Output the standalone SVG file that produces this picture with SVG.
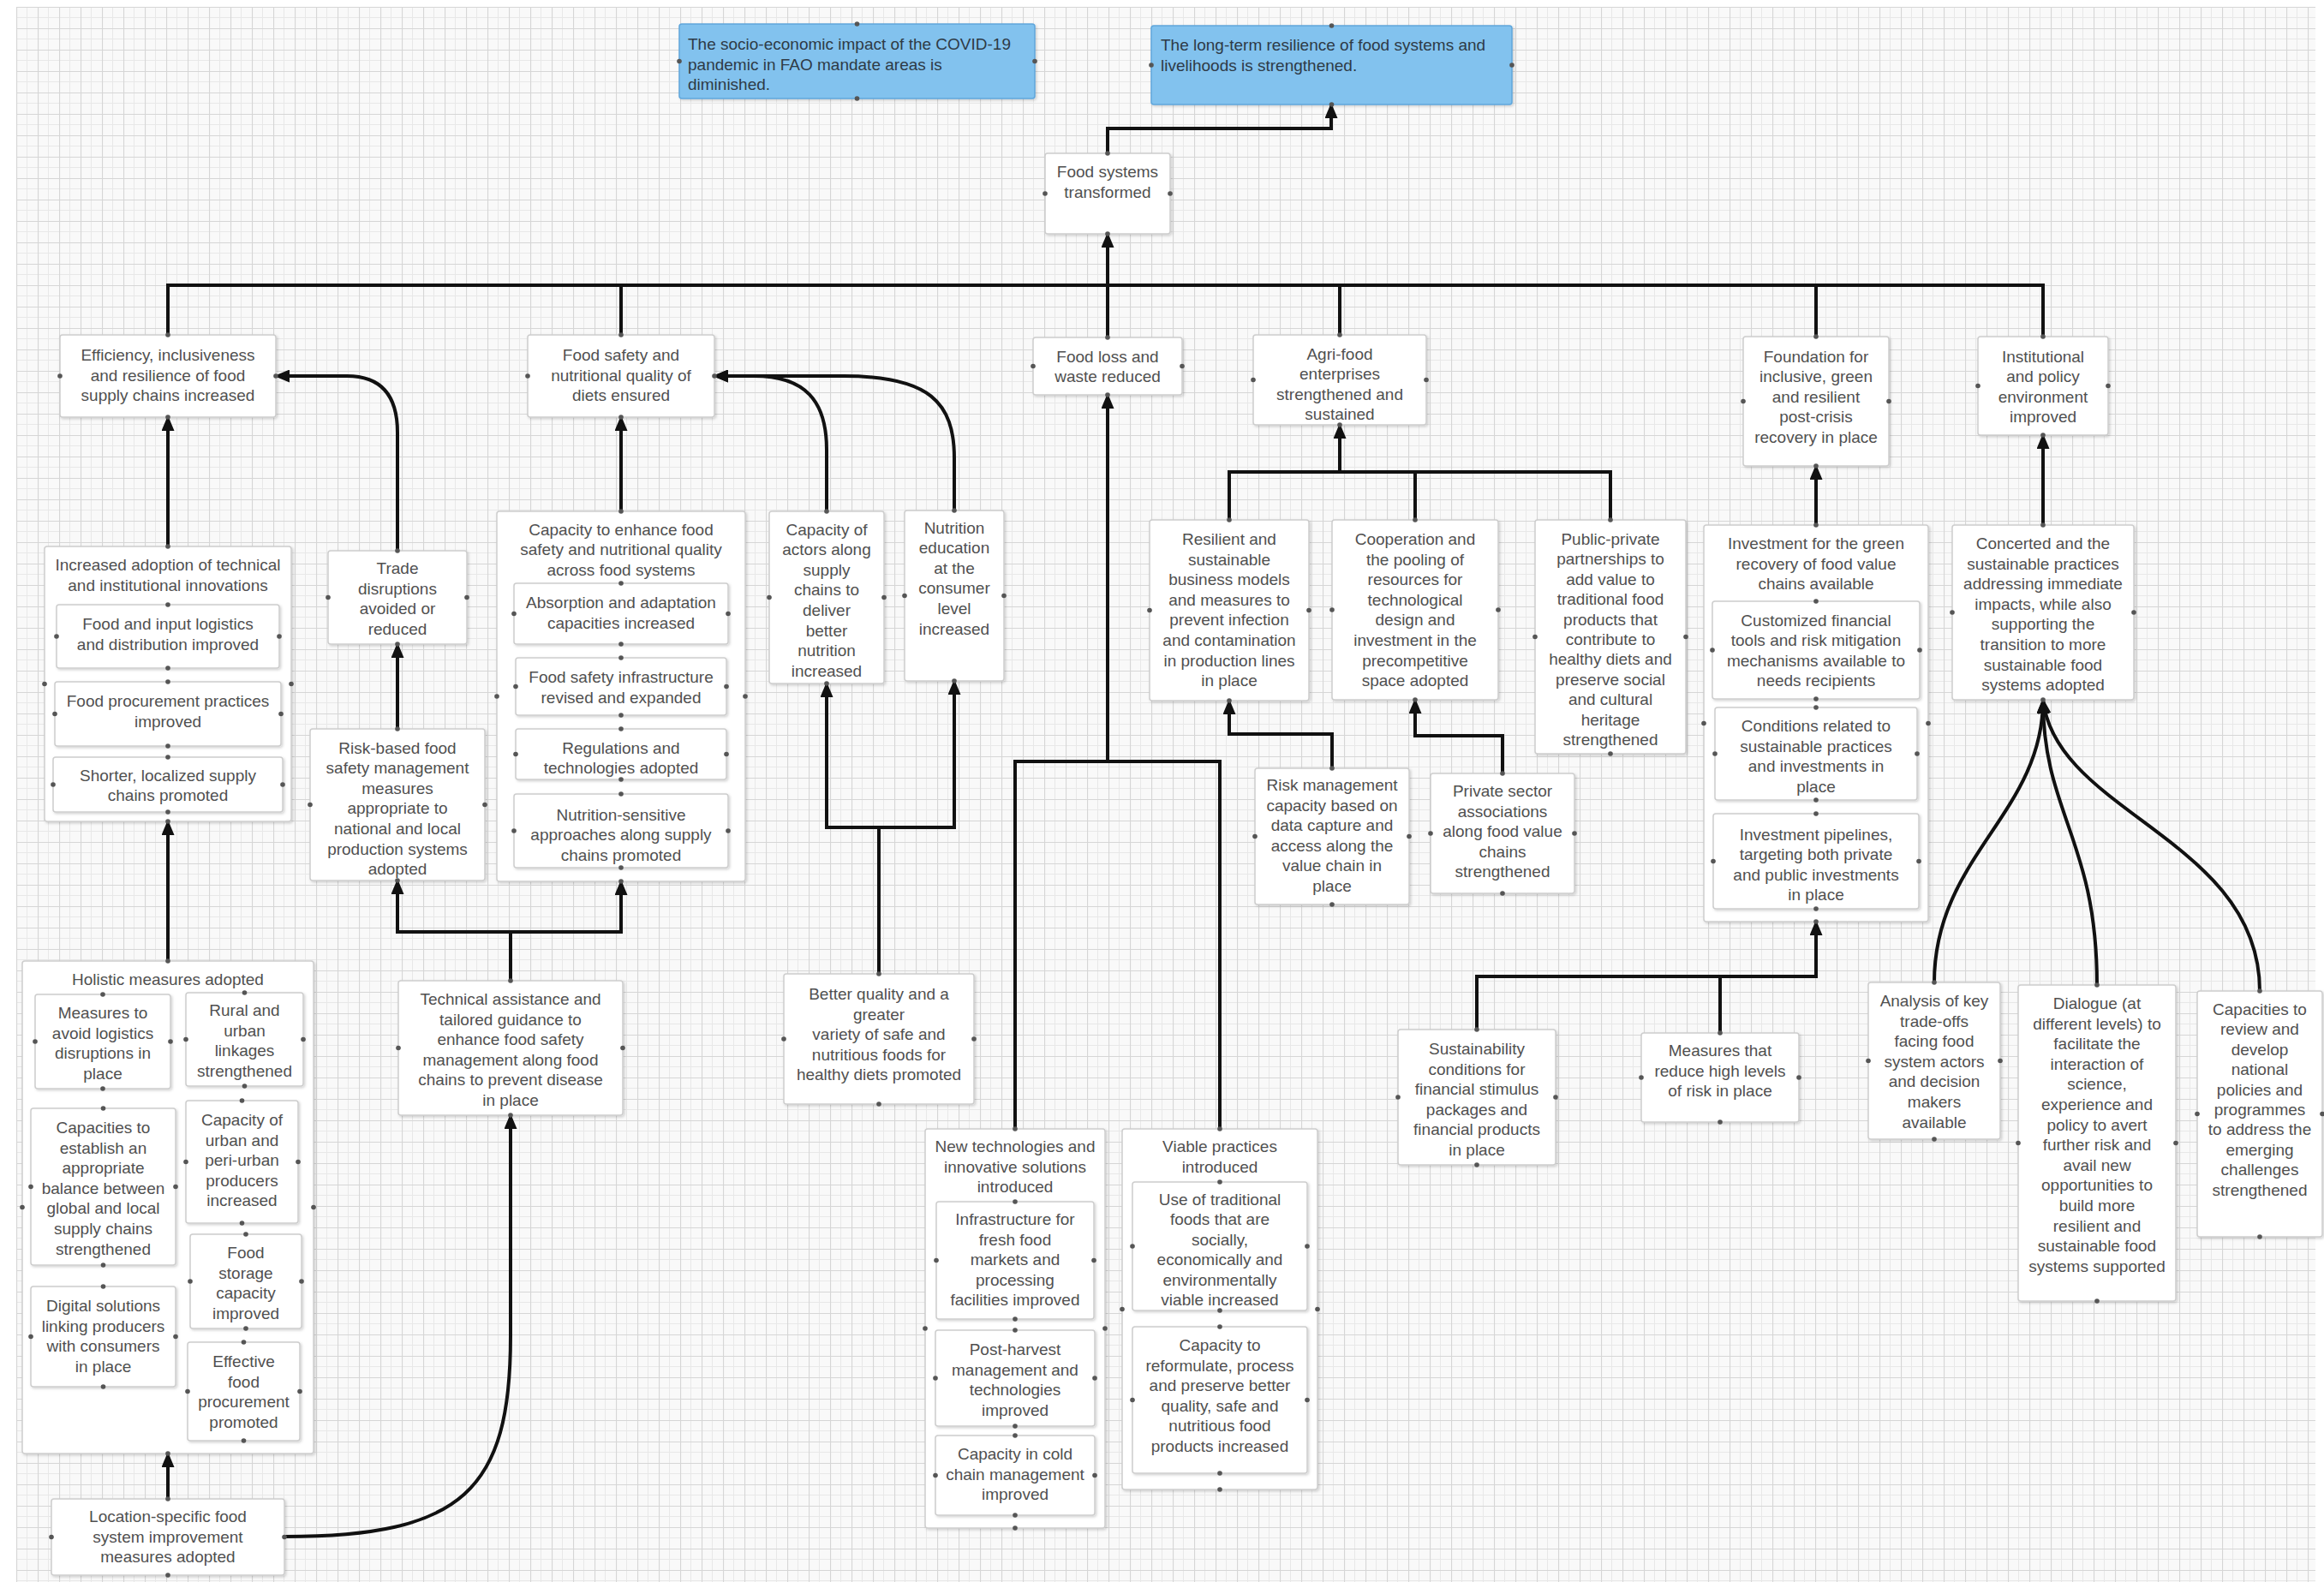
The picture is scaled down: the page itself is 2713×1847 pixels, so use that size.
<svg xmlns="http://www.w3.org/2000/svg" width="2713" height="1847" viewBox="0 0 2713 1847">
<defs>
<style>
.n{fill:#fff;stroke:#cdcdcd;stroke-width:1.5;filter:url(#sh)}
.b{fill:#82c2ee;stroke:#5fa6dc;stroke-width:1.5;filter:url(#sh)}
.t{font-family:"Liberation Sans",Arial,sans-serif;font-size:19px;fill:#505050;text-anchor:middle}
.tl{font-family:"Liberation Sans",Arial,sans-serif;font-size:19px;fill:#2e3a46;text-anchor:start}
.c{fill:none;stroke:#111;stroke-width:4}
.cp{fill:none;stroke:none;marker-start:url(#dot);marker-mid:url(#dot);marker-end:url(#dot)}
</style>
<pattern id="grid" x="19" y="8" width="25" height="25" patternUnits="userSpaceOnUse">
<rect width="25" height="25" fill="#f9f9f9"/>
<path d="M12.5,0V25M0,12.5H25" stroke="#e8e8e8" stroke-width="1" fill="none"/>
<path d="M0.5,0V25M0,0.5H25" stroke="#d6d6d6" stroke-width="1.2" fill="none"/>
</pattern>
<filter id="sh" x="-5%" y="-5%" width="115%" height="115%">
<feDropShadow dx="1.5" dy="1.5" stdDeviation="1.5" flood-color="#000" flood-opacity="0.18"/>
</filter>
<marker id="ah" viewBox="0 0 18 15" refX="16" refY="7.5" markerWidth="18" markerHeight="15" markerUnits="userSpaceOnUse" orient="auto-start-reverse">
<path d="M0,0L18,7.5L0,15z" fill="#111"/>
</marker>
<marker id="dot" viewBox="0 0 8 8" refX="4" refY="4" markerWidth="7" markerHeight="7" markerUnits="userSpaceOnUse">
<circle cx="4" cy="4" r="3.2" fill="#555"/>
</marker>
</defs>
<rect width="2713" height="1847" fill="#fff"/>
<rect x="19" y="8" width="2684" height="1839" fill="url(#grid)"/>

<g id="connectors">
<path class="c" d="M1293,179V150H1554V122" marker-end="url(#ah)"/>
<path class="c" d="M196,391V333H2385V393"/>
<path class="c" d="M725,391V333"/>
<path class="c" d="M1564,391V333"/>
<path class="c" d="M2120,393V333"/>
<path class="c" d="M1293,394V273" marker-end="url(#ah)"/>
<path class="c" d="M196,638V487" marker-end="url(#ah)"/>
<path class="c" d="M464,643V505C464,462 445,439 405,439H322" marker-end="url(#ah)"/>
<path class="c" d="M464,851V752" marker-end="url(#ah)"/>
<path class="c" d="M725,597V487" marker-end="url(#ah)"/>
<path class="c" d="M464,1028V1088H725V1029" marker-start="url(#ah)" marker-end="url(#ah)"/>
<path class="c" d="M596,1145V1088"/>
<path class="c" d="M196,1122V959" marker-end="url(#ah)"/>
<path class="c" d="M196,1750V1697" marker-end="url(#ah)"/>
<path class="c" d="M332,1794C540,1794 596,1740 596,1560V1302" marker-end="url(#ah)"/>
<path class="c" d="M965,597V525C965,468 940,439 880,439H834" marker-end="url(#ah)"/>
<path class="c" d="M1114,596V535C1114,470 1085,439 985,439H834" marker-end="url(#ah)"/>
<path class="c" d="M965,798V966H1114V795" marker-start="url(#ah)" marker-end="url(#ah)"/>
<path class="c" d="M1026,1137V966"/>
<path class="c" d="M1293,461V889" marker-start="url(#ah)"/>
<path class="c" d="M1185,1318V889H1424V1318"/>
<path class="c" d="M1564,496V551" marker-start="url(#ah)"/>
<path class="c" d="M1435,607V551H1880V607"/>
<path class="c" d="M1652,607V551"/>
<path class="c" d="M1555,897V857H1435V818" marker-end="url(#ah)"/>
<path class="c" d="M1754,903V859H1652V817" marker-end="url(#ah)"/>
<path class="c" d="M2120,613V544" marker-end="url(#ah)"/>
<path class="c" d="M2385,613V508" marker-end="url(#ah)"/>
<path class="c" d="M1724,1202V1140H2120V1076" marker-end="url(#ah)"/>
<path class="c" d="M2008,1206V1140"/>
<path class="c" d="M2258,1147C2258,1000 2385,950 2385,817" marker-end="url(#ah)"/>
<path class="c" d="M2448,1150C2448,980 2385,950 2385,817" marker-end="url(#ah)"/>
<path class="c" d="M2638,1157C2638,980 2400,950 2385,817" marker-end="url(#ah)"/>
</g>

<g id="n-impact"><rect class="b" x="793" y="28" width="415" height="87" rx="3"/><text class="tl" y="58"><tspan x="803">The socio-economic impact of the COVID-19</tspan><tspan x="803" dy="23.6">pandemic in FAO mandate areas is</tspan><tspan x="803" dy="23.6">diminished.</tspan></text><path class="cp" d="M1000.5,28L1208,71.5L1000.5,115L793,71.5"/></g>

<g id="n-resilience"><rect class="b" x="1344" y="30" width="421" height="92" rx="3"/><text class="tl" y="59"><tspan x="1355">The long-term resilience of food systems and</tspan><tspan x="1355" dy="23.6">livelihoods is strengthened.</tspan></text><path class="cp" d="M1554.5,30L1765,76L1554.5,122L1344,76"/></g>

<g id="n-foodsystems"><rect class="n" x="1220" y="179" width="146" height="94" rx="3"/><text class="t" y="207"><tspan x="1293">Food systems</tspan><tspan x="1293" dy="23.6">transformed</tspan></text><path class="cp" d="M1293,179L1366,226L1293,273L1220,226"/></g>

<g id="n-efficiency"><rect class="n" x="70" y="391" width="252" height="96" rx="3"/><text class="t" y="421"><tspan x="196">Efficiency, inclusiveness</tspan><tspan x="196" dy="23.6">and resilience of food</tspan><tspan x="196" dy="23.6">supply chains increased</tspan></text><path class="cp" d="M196,391L322,439L196,487L70,439"/></g>

<g id="n-foodsafety"><rect class="n" x="616" y="391" width="218" height="96" rx="3"/><text class="t" y="421"><tspan x="725">Food safety and</tspan><tspan x="725" dy="23.6">nutritional quality of</tspan><tspan x="725" dy="23.6">diets ensured</tspan></text><path class="cp" d="M725,391L834,439L725,487L616,439"/></g>

<g id="n-foodloss"><rect class="n" x="1206" y="394" width="174" height="67" rx="3"/><text class="t" y="422.5"><tspan x="1293">Food loss and</tspan><tspan x="1293" dy="23.6">waste reduced</tspan></text><path class="cp" d="M1293,394L1380,427.5L1293,461L1206,427.5"/></g>

<g id="n-agrifood"><rect class="n" x="1463" y="391" width="202" height="105" rx="3"/><text class="t" y="419.5"><tspan x="1564">Agri-food</tspan><tspan x="1564" dy="23.6">enterprises</tspan><tspan x="1564" dy="23.6">strengthened and</tspan><tspan x="1564" dy="23.6">sustained</tspan></text><path class="cp" d="M1564,391L1665,443.5L1564,496L1463,443.5"/></g>

<g id="n-foundation"><rect class="n" x="2035" y="393" width="170" height="151" rx="3"/><text class="t" y="422.5"><tspan x="2120">Foundation for</tspan><tspan x="2120" dy="23.6">inclusive, green</tspan><tspan x="2120" dy="23.6">and resilient</tspan><tspan x="2120" dy="23.6">post-crisis</tspan><tspan x="2120" dy="23.6">recovery in place</tspan></text><path class="cp" d="M2120,393L2205,468.5L2120,544L2035,468.5"/></g>

<g id="n-institutional"><rect class="n" x="2309" y="393" width="152" height="115" rx="3"/><text class="t" y="422.5"><tspan x="2385">Institutional</tspan><tspan x="2385" dy="23.6">and policy</tspan><tspan x="2385" dy="23.6">environment</tspan><tspan x="2385" dy="23.6">improved</tspan></text><path class="cp" d="M2385,393L2461,450.5L2385,508L2309,450.5"/></g>

<g id="n-increased"><rect class="n" x="52" y="638" width="288" height="321" rx="3"/><text class="t" y="666"><tspan x="196">Increased adoption of technical</tspan><tspan x="196" dy="23.6">and institutional innovations</tspan></text><path class="cp" d="M196,638L340,798.5L196,959L52,798.5"/>
<g id="n-logistics"><rect class="n" x="66" y="706" width="260" height="74" rx="3"/><text class="t" y="735"><tspan x="196">Food and input logistics</tspan><tspan x="196" dy="23.6">and distribution improved</tspan></text><path class="cp" d="M196,706L326,743L196,780L66,743"/></g>
<g id="n-procurement"><rect class="n" x="64" y="796" width="264" height="75" rx="3"/><text class="t" y="825"><tspan x="196">Food procurement practices</tspan><tspan x="196" dy="23.6">improved</tspan></text><path class="cp" d="M196,796L328,833.5L196,871L64,833.5"/></g>
<g id="n-shorter"><rect class="n" x="62" y="884" width="268" height="64" rx="3"/><text class="t" y="911.5"><tspan x="196">Shorter, localized supply</tspan><tspan x="196" dy="23.6">chains promoted</tspan></text><path class="cp" d="M196,884L330,916L196,948L62,916"/></g>
</g>

<g id="n-trade"><rect class="n" x="383" y="643" width="162" height="109" rx="3"/><text class="t" y="670"><tspan x="464">Trade</tspan><tspan x="464" dy="23.6">disruptions</tspan><tspan x="464" dy="23.6">avoided or</tspan><tspan x="464" dy="23.6">reduced</tspan></text><path class="cp" d="M464,643L545,697.5L464,752L383,697.5"/></g>

<g id="n-riskbased"><rect class="n" x="362" y="851" width="204" height="177" rx="3"/><text class="t" y="879.5"><tspan x="464">Risk-based food</tspan><tspan x="464" dy="23.6">safety management</tspan><tspan x="464" dy="23.6">measures</tspan><tspan x="464" dy="23.6">appropriate to</tspan><tspan x="464" dy="23.6">national and local</tspan><tspan x="464" dy="23.6">production systems</tspan><tspan x="464" dy="23.6">adopted</tspan></text><path class="cp" d="M464,851L566,939.5L464,1028L362,939.5"/></g>

<g id="n-capacityenhance"><rect class="n" x="580" y="597" width="290" height="432" rx="3"/><text class="t" y="624.5"><tspan x="725">Capacity to enhance food</tspan><tspan x="725" dy="23.6">safety and nutritional quality</tspan><tspan x="725" dy="23.6">across food systems</tspan></text><path class="cp" d="M725,597L870,813L725,1029L580,813"/>
<g id="n-absorption"><rect class="n" x="600" y="681" width="250" height="71" rx="3"/><text class="t" y="710"><tspan x="725">Absorption and adaptation</tspan><tspan x="725" dy="23.6">capacities increased</tspan></text><path class="cp" d="M725,681L850,716.5L725,752L600,716.5"/></g>
<g id="n-infrastructure"><rect class="n" x="602" y="768" width="246" height="67" rx="3"/><text class="t" y="797"><tspan x="725">Food safety infrastructure</tspan><tspan x="725" dy="23.6">revised and expanded</tspan></text><path class="cp" d="M725,768L848,801.5L725,835L602,801.5"/></g>
<g id="n-regulations"><rect class="n" x="602" y="851" width="246" height="59" rx="3"/><text class="t" y="879.5"><tspan x="725">Regulations and</tspan><tspan x="725" dy="23.6">technologies adopted</tspan></text><path class="cp" d="M725,851L848,880.5L725,910L602,880.5"/></g>
<g id="n-nutritionsensitive"><rect class="n" x="600" y="927" width="250" height="86" rx="3"/><text class="t" y="957.5"><tspan x="725">Nutrition-sensitive</tspan><tspan x="725" dy="23.6">approaches along supply</tspan><tspan x="725" dy="23.6">chains promoted</tspan></text><path class="cp" d="M725,927L850,970L725,1013L600,970"/></g>
</g>

<g id="n-actors"><rect class="n" x="898" y="597" width="134" height="201" rx="3"/><text class="t" y="624.5"><tspan x="965">Capacity of</tspan><tspan x="965" dy="23.6">actors along</tspan><tspan x="965" dy="23.6">supply</tspan><tspan x="965" dy="23.6">chains to</tspan><tspan x="965" dy="23.6">deliver</tspan><tspan x="965" dy="23.6">better</tspan><tspan x="965" dy="23.6">nutrition</tspan><tspan x="965" dy="23.6">increased</tspan></text><path class="cp" d="M965,597L1032,697.5L965,798L898,697.5"/></g>

<g id="n-nutritioneducation"><rect class="n" x="1056" y="596" width="116" height="199" rx="3"/><text class="t" y="622.5"><tspan x="1114">Nutrition</tspan><tspan x="1114" dy="23.6">education</tspan><tspan x="1114" dy="23.6">at the</tspan><tspan x="1114" dy="23.6">consumer</tspan><tspan x="1114" dy="23.6">level</tspan><tspan x="1114" dy="23.6">increased</tspan></text><path class="cp" d="M1114,596L1172,695.5L1114,795L1056,695.5"/></g>

<g id="n-betterquality"><rect class="n" x="915" y="1137" width="222" height="152" rx="3"/><text class="t" y="1167"><tspan x="1026">Better quality and a</tspan><tspan x="1026" dy="23.6">greater</tspan><tspan x="1026" dy="23.6">variety of safe and</tspan><tspan x="1026" dy="23.6">nutritious foods for</tspan><tspan x="1026" dy="23.6">healthy diets promoted</tspan></text><path class="cp" d="M1026,1137L1137,1213L1026,1289L915,1213"/></g>

<g id="n-resilientmodels"><rect class="n" x="1342" y="607" width="186" height="211" rx="3"/><text class="t" y="636"><tspan x="1435">Resilient and</tspan><tspan x="1435" dy="23.6">sustainable</tspan><tspan x="1435" dy="23.6">business models</tspan><tspan x="1435" dy="23.6">and measures to</tspan><tspan x="1435" dy="23.6">prevent infection</tspan><tspan x="1435" dy="23.6">and contamination</tspan><tspan x="1435" dy="23.6">in production lines</tspan><tspan x="1435" dy="23.6">in place</tspan></text><path class="cp" d="M1435,607L1528,712.5L1435,818L1342,712.5"/></g>

<g id="n-cooperation"><rect class="n" x="1555" y="607" width="194" height="210" rx="3"/><text class="t" y="636"><tspan x="1652">Cooperation and</tspan><tspan x="1652" dy="23.6">the pooling of</tspan><tspan x="1652" dy="23.6">resources for</tspan><tspan x="1652" dy="23.6">technological</tspan><tspan x="1652" dy="23.6">design and</tspan><tspan x="1652" dy="23.6">investment in the</tspan><tspan x="1652" dy="23.6">precompetitive</tspan><tspan x="1652" dy="23.6">space adopted</tspan></text><path class="cp" d="M1652,607L1749,712L1652,817L1555,712"/></g>

<g id="n-ppp"><rect class="n" x="1792" y="607" width="176" height="273" rx="3"/><text class="t" y="636"><tspan x="1880">Public-private</tspan><tspan x="1880" dy="23.4">partnerships to</tspan><tspan x="1880" dy="23.4">add value to</tspan><tspan x="1880" dy="23.4">traditional food</tspan><tspan x="1880" dy="23.4">products that</tspan><tspan x="1880" dy="23.4">contribute to</tspan><tspan x="1880" dy="23.4">healthy diets and</tspan><tspan x="1880" dy="23.4">preserve social</tspan><tspan x="1880" dy="23.4">and cultural</tspan><tspan x="1880" dy="23.4">heritage</tspan><tspan x="1880" dy="23.4">strengthened</tspan></text><path class="cp" d="M1880,607L1968,743.5L1880,880L1792,743.5"/></g>

<g id="n-riskmgmt"><rect class="n" x="1465" y="897" width="180" height="159" rx="3"/><text class="t" y="923"><tspan x="1555">Risk management</tspan><tspan x="1555" dy="23.6">capacity based on</tspan><tspan x="1555" dy="23.6">data capture and</tspan><tspan x="1555" dy="23.6">access along the</tspan><tspan x="1555" dy="23.6">value chain in</tspan><tspan x="1555" dy="23.6">place</tspan></text><path class="cp" d="M1555,897L1645,976.5L1555,1056L1465,976.5"/></g>

<g id="n-privatesector"><rect class="n" x="1670" y="903" width="168" height="140" rx="3"/><text class="t" y="930"><tspan x="1754">Private sector</tspan><tspan x="1754" dy="23.6">associations</tspan><tspan x="1754" dy="23.6">along food value</tspan><tspan x="1754" dy="23.6">chains</tspan><tspan x="1754" dy="23.6">strengthened</tspan></text><path class="cp" d="M1754,903L1838,973L1754,1043L1670,973"/></g>

<g id="n-investment"><rect class="n" x="1989" y="613" width="262" height="463" rx="3"/><text class="t" y="641"><tspan x="2120">Investment for the green</tspan><tspan x="2120" dy="23.6">recovery of food value</tspan><tspan x="2120" dy="23.6">chains available</tspan></text><path class="cp" d="M2120,613L2251,844.5L2120,1076L1989,844.5"/>
<g id="n-customized"><rect class="n" x="1999" y="702" width="242" height="114" rx="3"/><text class="t" y="730.5"><tspan x="2120">Customized financial</tspan><tspan x="2120" dy="23.6">tools and risk mitigation</tspan><tspan x="2120" dy="23.6">mechanisms available to</tspan><tspan x="2120" dy="23.6">needs recipients</tspan></text><path class="cp" d="M2120,702L2241,759L2120,816L1999,759"/></g>
<g id="n-conditions"><rect class="n" x="2002" y="826" width="236" height="108" rx="3"/><text class="t" y="854"><tspan x="2120">Conditions related to</tspan><tspan x="2120" dy="23.6">sustainable practices</tspan><tspan x="2120" dy="23.6">and investments in</tspan><tspan x="2120" dy="23.6">place</tspan></text><path class="cp" d="M2120,826L2238,880L2120,934L2002,880"/></g>
<g id="n-pipelines"><rect class="n" x="2000" y="950" width="240" height="111" rx="3"/><text class="t" y="980.5"><tspan x="2120">Investment pipelines,</tspan><tspan x="2120" dy="23.6">targeting both private</tspan><tspan x="2120" dy="23.6">and public investments</tspan><tspan x="2120" dy="23.6">in place</tspan></text><path class="cp" d="M2120,950L2240,1005.5L2120,1061L2000,1005.5"/></g>
</g>

<g id="n-concerted"><rect class="n" x="2279" y="613" width="212" height="204" rx="3"/><text class="t" y="641"><tspan x="2385">Concerted and the</tspan><tspan x="2385" dy="23.6">sustainable practices</tspan><tspan x="2385" dy="23.6">addressing immediate</tspan><tspan x="2385" dy="23.6">impacts, while also</tspan><tspan x="2385" dy="23.6">supporting the</tspan><tspan x="2385" dy="23.6">transition to more</tspan><tspan x="2385" dy="23.6">sustainable food</tspan><tspan x="2385" dy="23.6">systems adopted</tspan></text><path class="cp" d="M2385,613L2491,715L2385,817L2279,715"/></g>

<g id="n-holistic"><rect class="n" x="26" y="1122" width="340" height="575" rx="3"/><text class="t" y="1150"><tspan x="196">Holistic measures adopted</tspan></text><path class="cp" d="M196,1122L366,1409.5L196,1697L26,1409.5"/>
<g id="n-avoidlogistics"><rect class="n" x="41" y="1161" width="158" height="110" rx="3"/><text class="t" y="1189"><tspan x="120">Measures to</tspan><tspan x="120" dy="23.6">avoid logistics</tspan><tspan x="120" dy="23.6">disruptions in</tspan><tspan x="120" dy="23.6">place</tspan></text><path class="cp" d="M120,1161L199,1216L120,1271L41,1216"/></g>
<g id="n-rural"><rect class="n" x="217" y="1159" width="137" height="109" rx="3"/><text class="t" y="1186"><tspan x="285.5">Rural and</tspan><tspan x="285.5" dy="23.6">urban</tspan><tspan x="285.5" dy="23.6">linkages</tspan><tspan x="285.5" dy="23.6">strengthened</tspan></text><path class="cp" d="M285.5,1159L354,1213.5L285.5,1268L217,1213.5"/></g>
<g id="n-balance"><rect class="n" x="36" y="1294" width="169" height="183" rx="3"/><text class="t" y="1323"><tspan x="120.5">Capacities to</tspan><tspan x="120.5" dy="23.6">establish an</tspan><tspan x="120.5" dy="23.6">appropriate</tspan><tspan x="120.5" dy="23.6">balance between</tspan><tspan x="120.5" dy="23.6">global and local</tspan><tspan x="120.5" dy="23.6">supply chains</tspan><tspan x="120.5" dy="23.6">strengthened</tspan></text><path class="cp" d="M120.5,1294L205,1385.5L120.5,1477L36,1385.5"/></g>
<g id="n-periurban"><rect class="n" x="217" y="1285" width="131" height="143" rx="3"/><text class="t" y="1314"><tspan x="282.5">Capacity of</tspan><tspan x="282.5" dy="23.6">urban and</tspan><tspan x="282.5" dy="23.6">peri-urban</tspan><tspan x="282.5" dy="23.6">producers</tspan><tspan x="282.5" dy="23.6">increased</tspan></text><path class="cp" d="M282.5,1285L348,1356.5L282.5,1428L217,1356.5"/></g>
<g id="n-storage"><rect class="n" x="222" y="1441" width="130" height="110" rx="3"/><text class="t" y="1469"><tspan x="287">Food</tspan><tspan x="287" dy="23.6">storage</tspan><tspan x="287" dy="23.6">capacity</tspan><tspan x="287" dy="23.6">improved</tspan></text><path class="cp" d="M287,1441L352,1496L287,1551L222,1496"/></g>
<g id="n-digital"><rect class="n" x="36" y="1502" width="169" height="117" rx="3"/><text class="t" y="1531"><tspan x="120.5">Digital solutions</tspan><tspan x="120.5" dy="23.6">linking producers</tspan><tspan x="120.5" dy="23.6">with consumers</tspan><tspan x="120.5" dy="23.6">in place</tspan></text><path class="cp" d="M120.5,1502L205,1560.5L120.5,1619L36,1560.5"/></g>
<g id="n-effective"><rect class="n" x="219" y="1567" width="131" height="115" rx="3"/><text class="t" y="1596"><tspan x="284.5">Effective</tspan><tspan x="284.5" dy="23.6">food</tspan><tspan x="284.5" dy="23.6">procurement</tspan><tspan x="284.5" dy="23.6">promoted</tspan></text><path class="cp" d="M284.5,1567L350,1624.5L284.5,1682L219,1624.5"/></g>
</g>

<g id="n-location"><rect class="n" x="60" y="1750" width="272" height="89" rx="3"/><text class="t" y="1777"><tspan x="196">Location-specific food</tspan><tspan x="196" dy="23.6">system improvement</tspan><tspan x="196" dy="23.6">measures adopted</tspan></text><path class="cp" d="M196,1750L332,1794.5L196,1839L60,1794.5"/></g>

<g id="n-technical"><rect class="n" x="465" y="1145" width="262" height="157" rx="3"/><text class="t" y="1173"><tspan x="596">Technical assistance and</tspan><tspan x="596" dy="23.6">tailored guidance to</tspan><tspan x="596" dy="23.6">enhance food safety</tspan><tspan x="596" dy="23.6">management along food</tspan><tspan x="596" dy="23.6">chains to prevent disease</tspan><tspan x="596" dy="23.6">in place</tspan></text><path class="cp" d="M596,1145L727,1223.5L596,1302L465,1223.5"/></g>

<g id="n-newtech"><rect class="n" x="1080" y="1318" width="210" height="466" rx="3"/><text class="t" y="1345"><tspan x="1185">New technologies and</tspan><tspan x="1185" dy="23.6">innovative solutions</tspan><tspan x="1185" dy="23.6">introduced</tspan></text><path class="cp" d="M1185,1318L1290,1551L1185,1784L1080,1551"/>
<g id="n-freshmarkets"><rect class="n" x="1093" y="1403" width="184" height="137" rx="3"/><text class="t" y="1430"><tspan x="1185">Infrastructure for</tspan><tspan x="1185" dy="23.6">fresh food</tspan><tspan x="1185" dy="23.6">markets and</tspan><tspan x="1185" dy="23.6">processing</tspan><tspan x="1185" dy="23.6">facilities improved</tspan></text><path class="cp" d="M1185,1403L1277,1471.5L1185,1540L1093,1471.5"/></g>
<g id="n-postharvest"><rect class="n" x="1092" y="1553" width="186" height="112" rx="3"/><text class="t" y="1582"><tspan x="1185">Post-harvest</tspan><tspan x="1185" dy="23.6">management and</tspan><tspan x="1185" dy="23.6">technologies</tspan><tspan x="1185" dy="23.6">improved</tspan></text><path class="cp" d="M1185,1553L1278,1609L1185,1665L1092,1609"/></g>
<g id="n-coldchain"><rect class="n" x="1092" y="1676" width="186" height="93" rx="3"/><text class="t" y="1704"><tspan x="1185">Capacity in cold</tspan><tspan x="1185" dy="23.6">chain management</tspan><tspan x="1185" dy="23.6">improved</tspan></text><path class="cp" d="M1185,1676L1278,1722.5L1185,1769L1092,1722.5"/></g>
</g>

<g id="n-viable"><rect class="n" x="1310" y="1318" width="228" height="421" rx="3"/><text class="t" y="1345"><tspan x="1424">Viable practices</tspan><tspan x="1424" dy="23.6">introduced</tspan></text><path class="cp" d="M1424,1318L1538,1528.5L1424,1739L1310,1528.5"/>
<g id="n-traditional"><rect class="n" x="1322" y="1380" width="204" height="150" rx="3"/><text class="t" y="1407"><tspan x="1424">Use of traditional</tspan><tspan x="1424" dy="23.4">foods that are</tspan><tspan x="1424" dy="23.4">socially,</tspan><tspan x="1424" dy="23.4">economically and</tspan><tspan x="1424" dy="23.4">environmentally</tspan><tspan x="1424" dy="23.4">viable increased</tspan></text><path class="cp" d="M1424,1380L1526,1455L1424,1530L1322,1455"/></g>
<g id="n-reformulate"><rect class="n" x="1322" y="1549" width="204" height="171" rx="3"/><text class="t" y="1577"><tspan x="1424">Capacity to</tspan><tspan x="1424" dy="23.6">reformulate, process</tspan><tspan x="1424" dy="23.6">and preserve better</tspan><tspan x="1424" dy="23.6">quality, safe and</tspan><tspan x="1424" dy="23.6">nutritious food</tspan><tspan x="1424" dy="23.6">products increased</tspan></text><path class="cp" d="M1424,1549L1526,1634.5L1424,1720L1322,1634.5"/></g>
</g>

<g id="n-sustainability"><rect class="n" x="1632" y="1202" width="184" height="158" rx="3"/><text class="t" y="1231"><tspan x="1724">Sustainability</tspan><tspan x="1724" dy="23.6">conditions for</tspan><tspan x="1724" dy="23.6">financial stimulus</tspan><tspan x="1724" dy="23.6">packages and</tspan><tspan x="1724" dy="23.6">financial products</tspan><tspan x="1724" dy="23.6">in place</tspan></text><path class="cp" d="M1724,1202L1816,1281L1724,1360L1632,1281"/></g>

<g id="n-reducerisk"><rect class="n" x="1916" y="1206" width="184" height="104" rx="3"/><text class="t" y="1233"><tspan x="2008">Measures that</tspan><tspan x="2008" dy="23.6">reduce high levels</tspan><tspan x="2008" dy="23.6">of risk in place</tspan></text><path class="cp" d="M2008,1206L2100,1258L2008,1310L1916,1258"/></g>

<g id="n-analysis"><rect class="n" x="2181" y="1147" width="154" height="183" rx="3"/><text class="t" y="1175"><tspan x="2258">Analysis of key</tspan><tspan x="2258" dy="23.6">trade-offs</tspan><tspan x="2258" dy="23.6">facing food</tspan><tspan x="2258" dy="23.6">system actors</tspan><tspan x="2258" dy="23.6">and decision</tspan><tspan x="2258" dy="23.6">makers</tspan><tspan x="2258" dy="23.6">available</tspan></text><path class="cp" d="M2258,1147L2335,1238.5L2258,1330L2181,1238.5"/></g>

<g id="n-dialogue"><rect class="n" x="2356" y="1150" width="184" height="369" rx="3"/><text class="t" y="1178"><tspan x="2448">Dialogue (at</tspan><tspan x="2448" dy="23.6">different levels) to</tspan><tspan x="2448" dy="23.6">facilitate the</tspan><tspan x="2448" dy="23.6">interaction of</tspan><tspan x="2448" dy="23.6">science,</tspan><tspan x="2448" dy="23.6">experience and</tspan><tspan x="2448" dy="23.6">policy to avert</tspan><tspan x="2448" dy="23.6">further risk and</tspan><tspan x="2448" dy="23.6">avail new</tspan><tspan x="2448" dy="23.6">opportunities to</tspan><tspan x="2448" dy="23.6">build more</tspan><tspan x="2448" dy="23.6">resilient and</tspan><tspan x="2448" dy="23.6">sustainable food</tspan><tspan x="2448" dy="23.6">systems supported</tspan></text><path class="cp" d="M2448,1150L2540,1334.5L2448,1519L2356,1334.5"/></g>

<g id="n-policies"><rect class="n" x="2565" y="1157" width="146" height="287" rx="3"/><text class="t" y="1185"><tspan x="2638">Capacities to</tspan><tspan x="2638" dy="23.4">review and</tspan><tspan x="2638" dy="23.4">develop</tspan><tspan x="2638" dy="23.4">national</tspan><tspan x="2638" dy="23.4">policies and</tspan><tspan x="2638" dy="23.4">programmes</tspan><tspan x="2638" dy="23.4">to address the</tspan><tspan x="2638" dy="23.4">emerging</tspan><tspan x="2638" dy="23.4">challenges</tspan><tspan x="2638" dy="23.4">strengthened</tspan></text><path class="cp" d="M2638,1157L2711,1300.5L2638,1444L2565,1300.5"/></g>
</svg>
